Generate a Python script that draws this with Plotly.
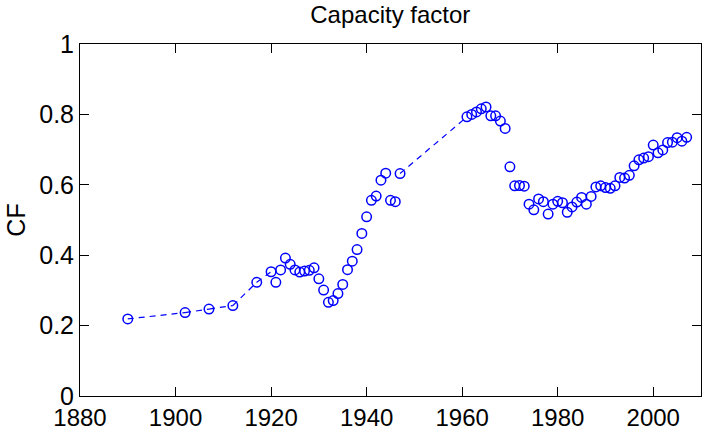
import plotly.graph_objects as go

years = [1890, 1902, 1907, 1912, 1917, 1920, 1921, 1922, 1923, 1924, 1925, 1926, 1927, 1928, 1929,
         1930, 1931, 1932, 1933, 1934, 1935, 1936, 1937, 1938, 1939, 1940, 1941, 1942, 1943, 1944,
         1945, 1946, 1947,
         1961, 1962, 1963, 1964, 1965, 1966, 1967, 1968, 1969, 1970, 1971, 1972, 1973, 1974, 1975,
         1976, 1977, 1978, 1979, 1980, 1981, 1982, 1983, 1984, 1985, 1986, 1987, 1988, 1989, 1990,
         1991, 1992, 1993, 1994, 1995, 1996, 1997, 1998, 1999, 2000, 2001, 2002, 2003, 2004, 2005,
         2006, 2007]
cf = [0.219, 0.237, 0.247, 0.257, 0.323, 0.353, 0.323, 0.358, 0.392, 0.374, 0.358, 0.352, 0.355, 0.357, 0.364,
      0.333, 0.301, 0.266, 0.271, 0.291, 0.317, 0.359, 0.383, 0.416, 0.462, 0.509, 0.556, 0.568, 0.613, 0.633,
      0.556, 0.552, 0.632,
      0.793, 0.800, 0.807, 0.816, 0.821, 0.796, 0.796, 0.781, 0.760, 0.651, 0.597, 0.598, 0.596, 0.545, 0.529,
      0.560, 0.552, 0.517, 0.545, 0.553, 0.549, 0.522, 0.537, 0.551, 0.564, 0.545, 0.567, 0.594, 0.597, 0.592,
      0.590, 0.597, 0.621, 0.619, 0.627, 0.654, 0.671, 0.676, 0.680, 0.713, 0.691, 0.699, 0.720, 0.721, 0.734,
      0.724, 0.735]

x_ticks = [1880, 1900, 1920, 1940, 1960, 1980, 2000]
y_ticks = [0, 0.2, 0.4, 0.6, 0.8, 1]
y_tick_labels = ["0", "0.2", "0.4", "0.6", "0.8", "1"]

# dashed line segments across the gaps in the record
gx, gy = [], []
for i in range(len(years) - 1):
    if years[i + 1] - years[i] > 1:
        gx += [years[i], years[i + 1], None]
        gy += [cf[i], cf[i + 1], None]

blue = "rgb(0,0,255)"
fig = go.Figure()
fig.add_trace(go.Scatter(x=gx, y=gy, mode="lines",
                         line=dict(color=blue, width=1.2, dash="6px,5px"),
                         hoverinfo="skip", showlegend=False))
fig.add_trace(go.Scatter(x=years, y=cf, mode="markers",
                         marker=dict(symbol="circle-open", size=9.5, color=blue,
                                     line=dict(color=blue, width=1.5)),
                         showlegend=False))

font = "Liberation Sans, Arial, Helvetica, sans-serif"
fig.update_layout(
    width=702, height=430,
    margin=dict(l=80, r=1, t=44, b=34),
    paper_bgcolor="white", plot_bgcolor="white",
    font=dict(family=font, size=24, color="black"),
    title=dict(text="Capacity factor", x=0.556, xanchor="center",
               y=1 - 15 / 430, yanchor="middle", yref="container",
               font=dict(family=font, size=24, color="black")),
)
fig.update_xaxes(range=[1880, 2010], tickvals=x_ticks, ticktext=[str(v) for v in x_ticks],
                 ticks="inside", ticklen=9, tickwidth=1, tickcolor="black",
                 showline=True, linecolor="black", linewidth=1, mirror="ticks",
                 showgrid=False, zeroline=False, tickfont=dict(size=24),
                 automargin=False, ticklabelstandoff=0)
fig.update_yaxes(range=[0, 1], tickvals=y_ticks, ticktext=y_tick_labels,
                 ticks="inside", ticklen=9, tickwidth=1, tickcolor="black",
                 showline=True, linecolor="black", linewidth=1, mirror="ticks",
                 showgrid=False, zeroline=False, tickfont=dict(size=25),
                 automargin=False,
                 title=dict(text="CF", font=dict(size=25), standoff=6))

fig.write_html("out.html", config={"displayModeBar": False},
               post_script="document.body.style.margin='0';document.body.style.overflow='hidden';")
